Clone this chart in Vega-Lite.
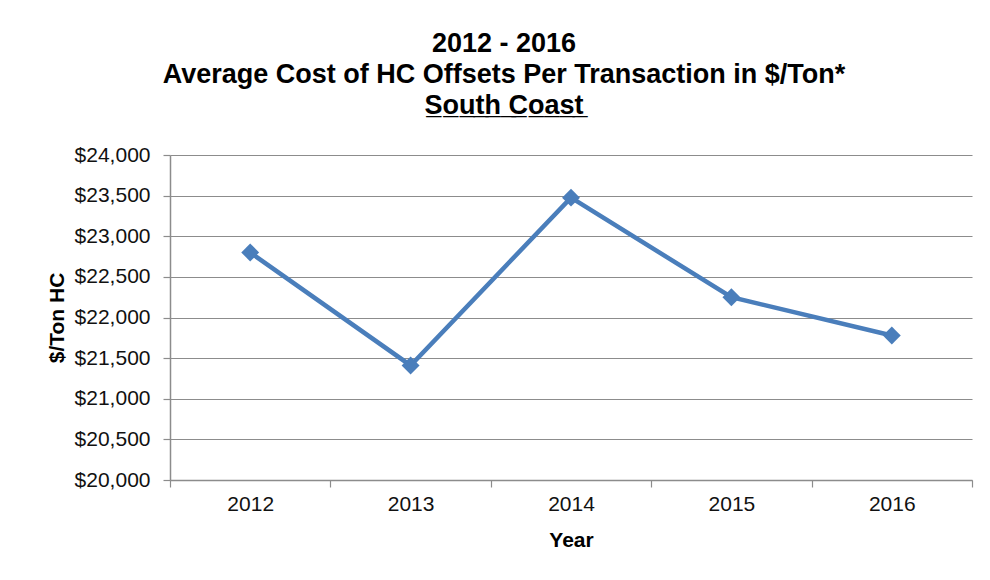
{
  "$schema": "https://vega.github.io/schema/vega-lite/v6.json",
  "autosize": "none",
  "width": 802,
  "height": 325,
  "padding": {"left": 170, "top": 155, "right": 18, "bottom": 100},
  "background": "white",
  "title": {
    "text": ["2012 - 2016", "Average Cost of HC Offsets Per Transaction in  $/Ton*", "S\u0332o\u0332u\u0332t\u0332h\u0332 \u0332C\u0332o\u0332a\u0332s\u0332t\u0332"],
    "anchor": "middle",
    "dx": -67,
    "offset": 24,
    "font": "Liberation Sans",
    "fontSize": 27,
    "fontWeight": "bold",
    "lineHeight": 31,
    "color": "black"
  },
  "data": {
    "values": [
      {"Year": "2012", "Cost": 22800},
      {"Year": "2013", "Cost": 21410},
      {"Year": "2014", "Cost": 23475},
      {"Year": "2015", "Cost": 22250},
      {"Year": "2016", "Cost": 21778}
    ]
  },
  "mark": {
    "type": "line",
    "color": "#4A7EBB",
    "strokeWidth": 4.5,
    "point": {"shape": "diamond", "size": 320, "filled": true, "color": "#4A7EBB", "opacity": 1}
  },
  "encoding": {
    "x": {
      "field": "Year",
      "type": "ordinal",
      "bandPosition": 0.5,
      "scale": {"type": "band", "paddingInner": 0, "paddingOuter": 0},
      "axis": {
        "title": "Year",
        "labelAngle": 0,
        "tickBand": "extent",
        "tickSize": 7,
        "labelPadding": 6,
        "titlePadding": 15,
        "grid": false
      }
    },
    "y": {
      "field": "Cost",
      "type": "quantitative",
      "scale": {"domain": [20000, 24000], "nice": false, "zero": false},
      "axis": {
        "title": "$/Ton HC",
        "values": [20000, 20500, 21000, 21500, 22000, 22500, 23000, 23500, 24000],
        "format": "$,.0f",
        "tickSize": 7,
        "labelPadding": 13,
        "titlePadding": 7,
        "grid": true
      }
    }
  },
  "config": {
    "view": {"stroke": null},
    "axis": {
      "labelFont": "Liberation Sans",
      "labelFontSize": 21,
      "labelColor": "#111111",
      "titleFont": "Liberation Sans",
      "titleFontSize": 21,
      "titleFontWeight": "bold",
      "titleColor": "black",
      "domainColor": "#8c8c8c",
      "tickColor": "#8c8c8c",
      "gridColor": "#8c8c8c",
      "domainWidth": 1.5,
      "tickWidth": 1.2,
      "gridWidth": 1.2
    }
  }
}
